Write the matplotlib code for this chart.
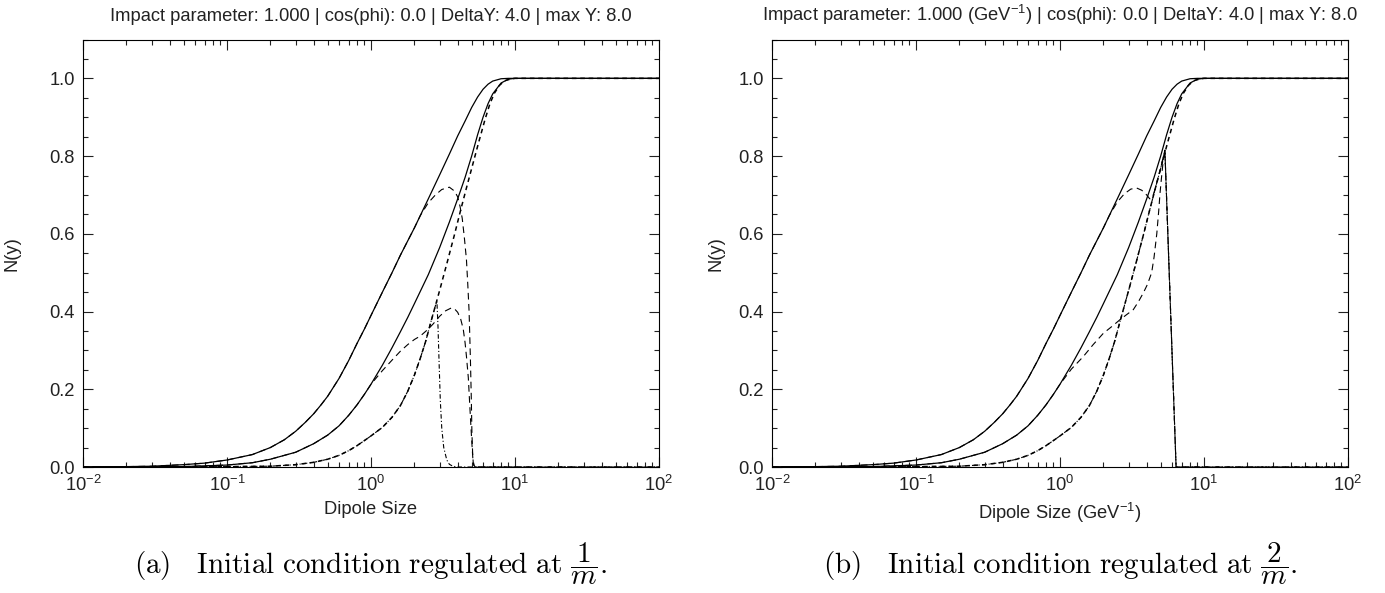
import matplotlib
matplotlib.use("Agg")
import matplotlib.pyplot as plt
from matplotlib.ticker import LogLocator, MultipleLocator, FormatStrFormatter

plt.rcParams['font.family'] = ['Liberation Sans', 'DejaVu Sans']
plt.rcParams['mathtext.fontset'] = 'custom'
plt.rcParams['mathtext.rm'] = 'Liberation Sans'
plt.rcParams['mathtext.it'] = 'Liberation Sans:italic'
plt.rcParams['mathtext.bf'] = 'Liberation Sans:bold'

# --- data (dipole size r, N(y)) ---
# full curves, the same in both panels
R_A = [0.01, 0.02, 0.03, 0.05, 0.07, 0.1, 0.15, 0.2, 0.25, 0.3, 0.35, 0.4, 0.45, 0.5, 0.6, 0.7, 0.8, 0.9,
       1.0, 1.2, 1.4, 1.6, 1.8, 2.0, 2.5, 3.0, 3.5, 4.0, 4.5, 5.0, 5.5, 6.0, 6.5, 7.0, 8.0, 9.0, 100.0]
N_A = [0.0, 0.001, 0.002, 0.006, 0.01, 0.018, 0.032, 0.05, 0.07, 0.092, 0.115, 0.137, 0.16, 0.182, 0.228, 0.274, 0.318, 0.355,
       0.39, 0.45, 0.50, 0.545, 0.582, 0.615, 0.69, 0.752, 0.805, 0.852, 0.89, 0.925, 0.952, 0.972, 0.985, 0.993, 0.999, 1.0, 1.0]

R_B = [0.01, 0.05, 0.1, 0.15, 0.2, 0.3, 0.4, 0.5, 0.6, 0.7, 0.8, 0.9, 1.0, 1.2, 1.4, 1.6, 1.8, 2.0,
       2.5, 3.0, 3.5, 4.0, 4.5, 5.0, 5.5, 6.0, 6.5, 7.0, 8.0, 9.0, 10.0, 100.0]
N_B = [0.0, 0.001, 0.005, 0.011, 0.02, 0.038, 0.06, 0.082, 0.106, 0.133, 0.16, 0.187, 0.213, 0.262, 0.307, 0.348, 0.385, 0.42,
       0.495, 0.565, 0.63, 0.69, 0.745, 0.80, 0.855, 0.90, 0.935, 0.96, 0.988, 0.998, 1.0, 1.0]

R_C = [0.01, 0.1, 0.2, 0.3, 0.4, 0.5, 0.6, 0.7, 0.8, 0.9, 1.0, 1.2, 1.4, 1.6, 1.8, 2.0, 2.2, 2.4, 2.6,
       2.8, 3.0, 3.4, 3.8, 4.2, 4.6, 5.1, 5.6, 6.2, 6.7, 7.2, 7.8, 8.5, 9.5, 10.0, 100.0]
N_C = [0.0, 0.001, 0.002, 0.006, 0.012, 0.02, 0.03, 0.042, 0.055, 0.068, 0.08, 0.102, 0.128, 0.158, 0.195, 0.236, 0.28, 0.324, 0.372,
       0.415, 0.455, 0.53, 0.598, 0.662, 0.718, 0.78, 0.836, 0.895, 0.935, 0.962, 0.982, 0.994, 0.999, 1.0, 1.0]

# (a) curves that break away and fall to zero
kA = R_A.index(2.0) + 1
kB = R_B.index(1.0) + 1
R_D1 = R_A[:kA] + [2.2, 2.5, 2.8, 3.1, 3.5, 3.8, 4.0, 4.15, 4.3, 4.45, 4.6, 4.7, 4.8, 4.9,
                   4.97, 5.02, 5.08, 5.13, 5.2, 5.3, 100.0]
N_D1 = N_A[:kA] + [0.647, 0.68, 0.70, 0.714, 0.72, 0.71, 0.695, 0.671, 0.64, 0.59, 0.534, 0.47, 0.40, 0.28,
                   0.18, 0.09, 0.035, 0.01, 0.002, 0.0, 0.0]

R_E1 = R_B[:kB] + [1.2, 1.4, 1.6, 1.8, 2.0, 2.2, 2.5, 2.7, 3.0, 3.3, 3.6, 3.8, 4.0, 4.2, 4.37,
                   4.5, 4.6, 4.74, 4.85, 4.95, 5.02, 5.1, 5.2, 5.3, 100.0]
N_E1 = N_B[:kB] + [0.248, 0.275, 0.298, 0.315, 0.328, 0.337, 0.355, 0.368, 0.388, 0.402, 0.409, 0.407, 0.398, 0.38, 0.355,
                   0.32, 0.285, 0.23, 0.16, 0.10, 0.06, 0.02, 0.004, 0.0, 0.0]

kC1 = R_C.index(2.8) + 1
R_F1 = R_C[:kC1] + [2.87, 2.92, 2.97, 3.03, 3.1, 3.2, 3.36, 3.5, 3.7, 4.0, 100.0]
N_F1 = N_C[:kC1] + [0.425, 0.36, 0.27, 0.17, 0.10, 0.05, 0.018, 0.007, 0.002, 0.0, 0.0]

# (b) curves that meet at the spike and then fall to zero
R_D2 = R_A[:kA] + [2.2, 2.5, 2.8, 3.1, 3.4, 3.7, 4.0, 4.2, 4.4, 4.6, 4.8, 5.0, 5.15, 5.35, 6.4, 100.0]
N_D2 = N_A[:kA] + [0.647, 0.682, 0.703, 0.715, 0.718, 0.712, 0.70, 0.69, 0.695, 0.718, 0.745, 0.768, 0.79, 0.815, 0.0, 0.0]

R_E2 = R_B[:kB] + [1.2, 1.45, 1.7, 2.0, 2.3, 2.61, 2.9, 3.23, 3.5, 3.79, 4.05, 4.33, 4.5, 4.7,
                   4.85, 4.95, 5.1, 5.2, 5.35, 6.4, 100.0]
N_E2 = N_B[:kB] + [0.252, 0.284, 0.315, 0.344, 0.362, 0.379, 0.392, 0.405, 0.425, 0.448, 0.47, 0.50, 0.54, 0.60,
                   0.66, 0.705, 0.755, 0.785, 0.815, 0.0, 0.0]

kC2 = R_C.index(5.1) + 1
R_F2 = R_C[:kC2] + [5.35, 6.4, 100.0]
N_F2 = N_C[:kC2] + [0.815, 0.0, 0.0]

TITLES = ["Impact parameter: 1.000 | cos(phi): 0.0 | DeltaY: 4.0 | max Y: 8.0",
          "Impact parameter: 1.000 (GeV$^{-1}$) | cos(phi): 0.0 | DeltaY: 4.0 | max Y: 8.0"]
XLABELS = ["Dipole Size", "Dipole Size (GeV$^{-1}$)"]
CAPTIONS = [r"$\mathrm{(a)\quad Initial\ condition\ regulated\ at\ }\dfrac{1}{m}\mathrm{.}$",
            r"$\mathrm{(b)\quad Initial\ condition\ regulated\ at\ }\dfrac{2}{m}\mathrm{.}$"]

FS = 13.2

fig = plt.figure(figsize=(13.85, 5.93), dpi=100)
ax1 = fig.add_axes([83/1385, 1-467/593, 576/1385, 427.5/593])
ax2 = fig.add_axes([772/1385, 1-467/593, 576/1385, 427.5/593])

panels = [(ax1, (R_D1, N_D1), (R_E1, N_E1), (R_F1, N_F1)),
          (ax2, (R_D2, N_D2), (R_E2, N_E2), (R_F2, N_F2))]

for i, (ax, d, e, f) in enumerate(panels):
    ax.plot(R_A, N_A, color='k', lw=0.9)
    ax.plot(R_B, N_B, color='k', lw=0.9)
    ax.plot(R_C, N_C, color='k', lw=1.1, dashes=(3, 2.5))
    ax.plot(d[0], d[1], color='k', lw=0.8, dashes=(6, 4))
    ax.plot(e[0], e[1], color='k', lw=0.8, dashes=(6, 4))
    ax.plot(f[0], f[1], color='k', lw=0.8, dashes=(4, 2, 1, 2))

    ax.set_xscale('log')
    ax.set_xlim(1e-2, 1e2)
    ax.set_ylim(0, 1.1)
    ax.xaxis.set_major_locator(LogLocator(base=10, numticks=10))
    ax.xaxis.set_minor_locator(LogLocator(base=10, subs=range(2, 10), numticks=50))
    ax.yaxis.set_major_locator(MultipleLocator(0.2))
    ax.yaxis.set_minor_locator(MultipleLocator(0.05))
    ax.yaxis.set_major_formatter(FormatStrFormatter('%.1f'))
    ax.tick_params(which='both', direction='in', top=True, right=True,
                   width=0.8, labelsize=FS, color='#222222', labelcolor='#222222')
    ax.tick_params(which='major', length=7.2, pad=6)
    ax.tick_params(which='minor', length=3.6)
    for s in ax.spines.values():
        s.set_linewidth(0.8)

    ax.set_title(TITLES[i], fontsize=FS, pad=13, color='#222222')
    ax.set_xlabel(XLABELS[i], fontsize=FS, labelpad=4, color='#222222')
    ax.set_ylabel("N(y)", fontsize=FS, color='#222222')

ax1.yaxis.set_label_coords(-0.108, 0.5)
ax2.yaxis.set_label_coords(-0.083, 0.5)

fig.text(371/1385, 1-574/593, CAPTIONS[0], ha='center', va='baseline',
         fontsize=21, math_fontfamily='cm')
fig.text(1060/1385, 1-574/593, CAPTIONS[1], ha='center', va='baseline',
         fontsize=21, math_fontfamily='cm')

fig.savefig("out.png", dpi=100)
